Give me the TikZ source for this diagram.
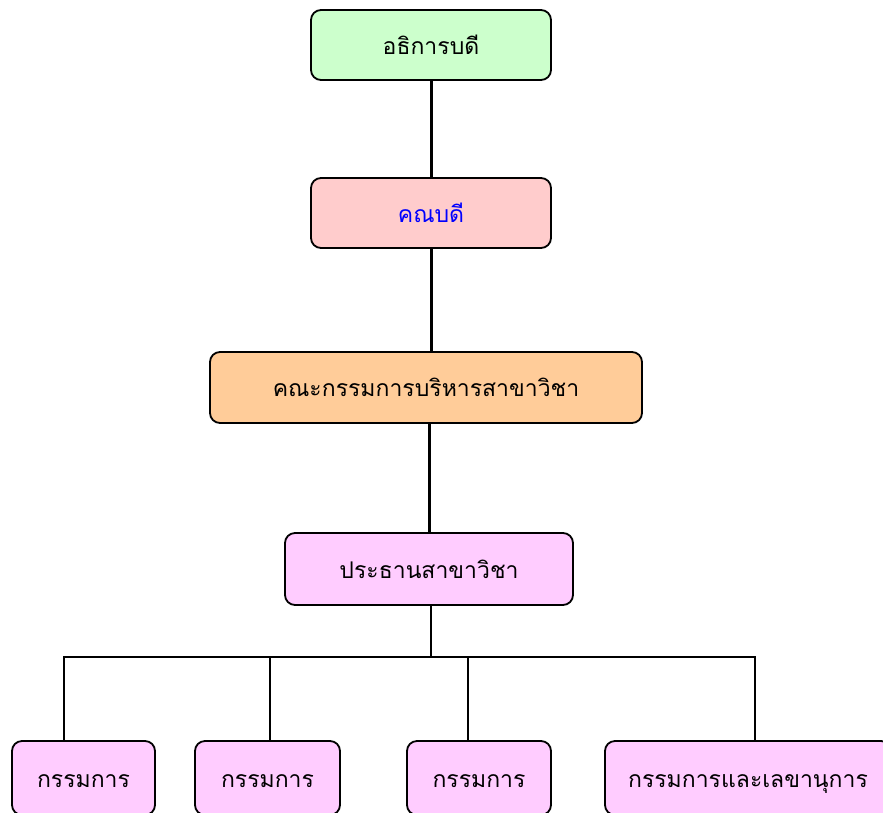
\documentclass[tikz,border=0pt]{standalone}
\usepackage{fontspec}
\newfontfamily\thaifont[Script=Thai]{Loma}
\definecolor{cgreen}{HTML}{CCFFCC}
\definecolor{cpink}{HTML}{FFCCCC}
\definecolor{corange}{HTML}{FFCC99}
\definecolor{cviolet}{HTML}{FFCCFF}
\begin{document}
\begin{tikzpicture}[x=1pt,y=-1pt,
  boxst/.style={draw=black, line width=1.8pt, rounded corners=10pt, inner sep=0pt},
  labelst/.style={font=\thaifont\fontsize{23}{27}\selectfont, inner sep=0pt, text height=12pt, text depth=0pt},
  thickln/.style={line width=3pt},
  thinln/.style={line width=1.6pt}]
\useasboundingbox (0,0) rectangle (883,812);
\clip (0,0) rectangle (883,812);
\node[boxst, fill=cgreen, minimum width=240pt, minimum height=70pt] (rector) at (431,45) {};
\node[labelst] (rectort) at (431,48) {อธิการบดี};
\node[boxst, fill=cpink, minimum width=240pt, minimum height=70pt] (dean) at (431,213) {};
\node[labelst, text=blue] (deant) at (431,216) {คณบดี};
\node[boxst, fill=corange, minimum width=432pt, minimum height=71pt] (board) at (426,387.5) {};
\node[labelst] (boardt) at (426,390.5) {คณะกรรมการบริหารสาขาวิชา};
\node[boxst, fill=cviolet, minimum width=288pt, minimum height=72pt] (chair) at (429,569) {};
\node[labelst] (chairt) at (429,572) {ประธานสาขาวิชา};
\node[boxst, fill=cviolet, minimum width=143pt, minimum height=74pt] (m1) at (83.5,778) {};
\node[labelst] (m1t) at (83.5,781) {กรรมการ};
\node[boxst, fill=cviolet, minimum width=145pt, minimum height=74pt] (m2) at (267.5,778) {};
\node[labelst] (m2t) at (267.5,781) {กรรมการ};
\node[boxst, fill=cviolet, minimum width=144pt, minimum height=74pt] (m3) at (479,778) {};
\node[labelst] (m3t) at (479,781) {กรรมการ};
\node[boxst, fill=cviolet, minimum width=286pt, minimum height=74pt] (m4) at (748,778) {};
\node[labelst] (m4t) at (748,781) {กรรมการและเลขานุการ};
\coordinate (hb) at (431,657);
\draw[thickln] (rector.south) -- (dean.north);
\draw[thickln] (dean.south) -- (dean.south |- board.north);
\draw[thickln] (chair.north -| 429,0) -- (429,0 |- board.south);
\draw[thinln] (431,0 |- chair.south) -- (hb);
\draw[thinln, line cap=rect] (64,657) -- (755,657);
\draw[thinln] (64,657) -- (64,0 |- m1.north);
\draw[thinln] (270,657) -- (270,0 |- m2.north);
\draw[thinln] (468,657) -- (468,0 |- m3.north);
\draw[thinln] (755,657) -- (755,0 |- m4.north);
\end{tikzpicture}
\end{document}
